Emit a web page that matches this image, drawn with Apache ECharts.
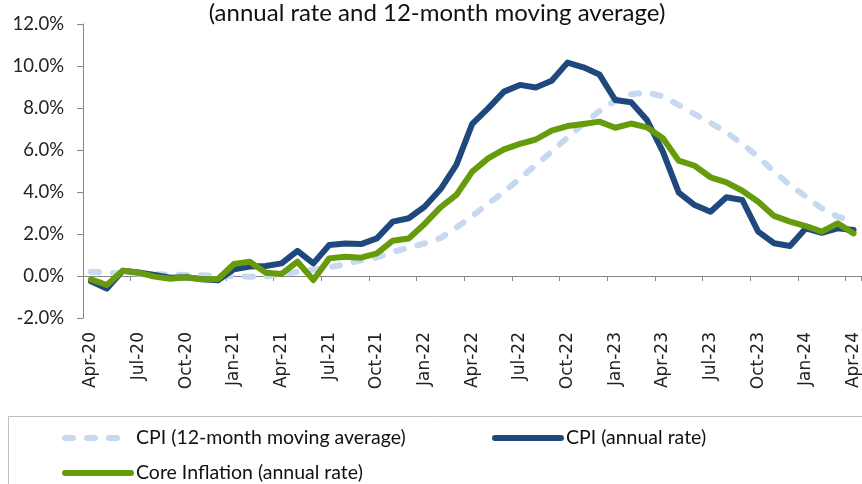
<!DOCTYPE html>
<html>
<head>
<meta charset="utf-8">
<title>CPI and core inflation</title>
<script src="https://cdn.jsdelivr.net/npm/echarts@6.0.0/dist/echarts.min.js"></script>
<style>
  html, body { margin: 0; padding: 0; background: #fff; }
  #chart { width: 862px; height: 484px; }
</style>
</head>
<body>
<div id="chart"></div>
<script>
// months Apr-20 .. Apr-24
const months = [
  "Apr-20", "May-20", "Jun-20", "Jul-20", "Aug-20", "Sep-20", "Oct-20", "Nov-20", "Dec-20",
  "Jan-21", "Feb-21", "Mar-21", "Apr-21", "May-21", "Jun-21", "Jul-21", "Aug-21", "Sep-21",
  "Oct-21", "Nov-21", "Dec-21", "Jan-22", "Feb-22", "Mar-22", "Apr-22", "May-22", "Jun-22",
  "Jul-22", "Aug-22", "Sep-22", "Oct-22", "Nov-22", "Dec-22", "Jan-23", "Feb-23", "Mar-23",
  "Apr-23", "May-23", "Jun-23", "Jul-23", "Aug-23", "Sep-23", "Oct-23", "Nov-23", "Dec-23",
  "Jan-24", "Feb-24", "Mar-24", "Apr-24",
];

// CPI, 12-month moving average (%)
const cpiMovingAvg = [
  0.2, 0.16, 0.13, 0.11, 0.09, 0.07, 0.05, 0.03, 0.01,
  -0.01, -0.03, -0.02, 0.08, 0.2, 0.3, 0.42, 0.56, 0.75,
  0.88, 1.15, 1.35, 1.55, 1.8, 2.3, 2.85, 3.45, 4.0,
  4.65, 5.29, 5.92, 6.6, 7.25, 7.85, 8.35, 8.65, 8.75,
  8.55, 8.14, 7.71, 7.3, 6.83, 6.29, 5.68, 4.97, 4.33,
  3.78, 3.22, 2.83, 2.6,
];

// CPI, annual rate (%)
const cpiAnnual = [
  -0.25, -0.6, 0.25, 0.17, 0.05, -0.08, -0.06, -0.15, -0.2,
  0.32, 0.45, 0.48, 0.6, 1.2, 0.6, 1.48, 1.55, 1.52,
  1.79, 2.59, 2.75, 3.3, 4.13, 5.29, 7.24, 7.98, 8.78,
  9.1, 8.98, 9.3, 10.16, 9.94, 9.6, 8.38, 8.27, 7.43,
  5.92, 3.97, 3.38, 3.06, 3.75, 3.62, 2.11, 1.56, 1.43,
  2.27, 2.06, 2.27, 2.19,
];

// core inflation, annual rate (%)
const coreAnnual = [
  -0.16, -0.43, 0.25, 0.16, -0.03, -0.13, -0.06, -0.16, -0.14,
  0.57, 0.68, 0.16, 0.1, 0.68, -0.19, 0.84, 0.92, 0.87,
  1.08, 1.68, 1.79, 2.48, 3.27, 3.86, 4.97, 5.6, 6.03,
  6.29, 6.5, 6.92, 7.14, 7.24, 7.35, 7.06, 7.26, 7.08,
  6.56, 5.49, 5.25, 4.7, 4.46, 4.06, 3.54, 2.86, 2.59,
  2.38, 2.11, 2.51, 2.03,
];

const seriesNames = [
  "CPI (12-month moving average)",
  "CPI (annual rate)",
  "Core Inflation (annual rate)",
];

const axisGrey = "#868686";
const textFont = "Lato";
const lineW = 6;

// one legend per item so each sits where the reference has it
const legendBase = (name, left, top) => ({
  data: [name],
  left: left,
  top: top,
  itemWidth: 66,
  itemHeight: 14,
  itemGap: 6,
  itemStyle: { opacity: 0 },
  lineStyle: { width: "inherit", type: "inherit", cap: "round" },
  textStyle: { fontFamily: textFont, fontSize: 19.5, color: "#111" },
  selectedMode: false,
});

const getOptions = () => ({
  animation: false,
  title: {
    text: "(annual rate and 12-month moving average)",
    left: 432,
    textAlign: "center",
    top: -4,
    textStyle: { fontFamily: textFont, fontSize: 24, fontWeight: "normal", color: "#111" },
  },
  grid: { left: 83, top: 24, width: 780, height: 294 },
  legend: [
    legendBase(seriesNames[0], 57, 423),
    legendBase(seriesNames[1], 487, 423),
    legendBase(seriesNames[2], 57, 458),
  ],
  graphic: [
    {
      type: "rect",
      shape: { x: 8.5, y: 416.5, width: 900, height: 100 },
      style: { fill: "none", stroke: "#BFBFBF", lineWidth: 1 },
      silent: true,
    },
  ],
  xAxis: [
    {
      // axis line on zero with ticks only
      type: "category",
      data: months,
      boundaryGap: true,
      axisLine: { onZero: true, lineStyle: { color: axisGrey, width: 1 } },
      axisTick: { show: true, interval: 2, length: 5, lineStyle: { color: axisGrey } },
      axisLabel: { show: false },
      splitLine: { show: false },
    },
    {
      // labels at the bottom of the plot
      type: "category",
      data: months,
      boundaryGap: true,
      position: "bottom",
      axisLine: { show: false, onZero: false },
      axisTick: { show: false },
      axisLabel: {
        interval: 2,
        rotate: 90,
        margin: 14,
        fontFamily: "DejaVu Sans",
        fontSize: 17,
        color: "#222",
      },
      splitLine: { show: false },
    },
  ],
  yAxis: {
    type: "value",
    min: -2,
    max: 12,
    interval: 2,
    axisLine: { show: true, lineStyle: { color: axisGrey, width: 1 } },
    axisTick: { show: true, length: 6, lineStyle: { color: axisGrey } },
    axisLabel: {
      formatter: (v) => v.toFixed(1) + "%",
      fontFamily: textFont,
      fontSize: 18.5,
      color: "#222",
      margin: 19,
    },
    splitLine: { show: false },
  },
  series: [
    {
      name: seriesNames[0],
      type: "line",
      data: cpiMovingAvg,
      showSymbol: false,
      symbol: "none",
      lineStyle: { color: "#C6D9F1", width: lineW, type: [8, 14], cap: "round" },
      itemStyle: { color: "#C6D9F1" },
      z: 1,
    },
    {
      name: seriesNames[1],
      type: "line",
      data: cpiAnnual,
      showSymbol: false,
      symbol: "none",
      lineStyle: { color: "#1F497D", width: lineW, cap: "round", join: "round" },
      itemStyle: { color: "#1F497D" },
      z: 2,
    },
    {
      name: seriesNames[2],
      type: "line",
      data: coreAnnual,
      showSymbol: false,
      symbol: "none",
      lineStyle: { color: "#669C0C", width: lineW, cap: "round", join: "round" },
      itemStyle: { color: "#669C0C" },
      z: 3,
    },
  ],
});

const initChart = () => {
  const el = document.getElementById("chart");
  if (!el) return;
  const chart = echarts.init(el);
  chart.setOption(getOptions());
  window.addEventListener("resize", () => chart.resize());
};

initChart();
</script>
</body>
</html>
